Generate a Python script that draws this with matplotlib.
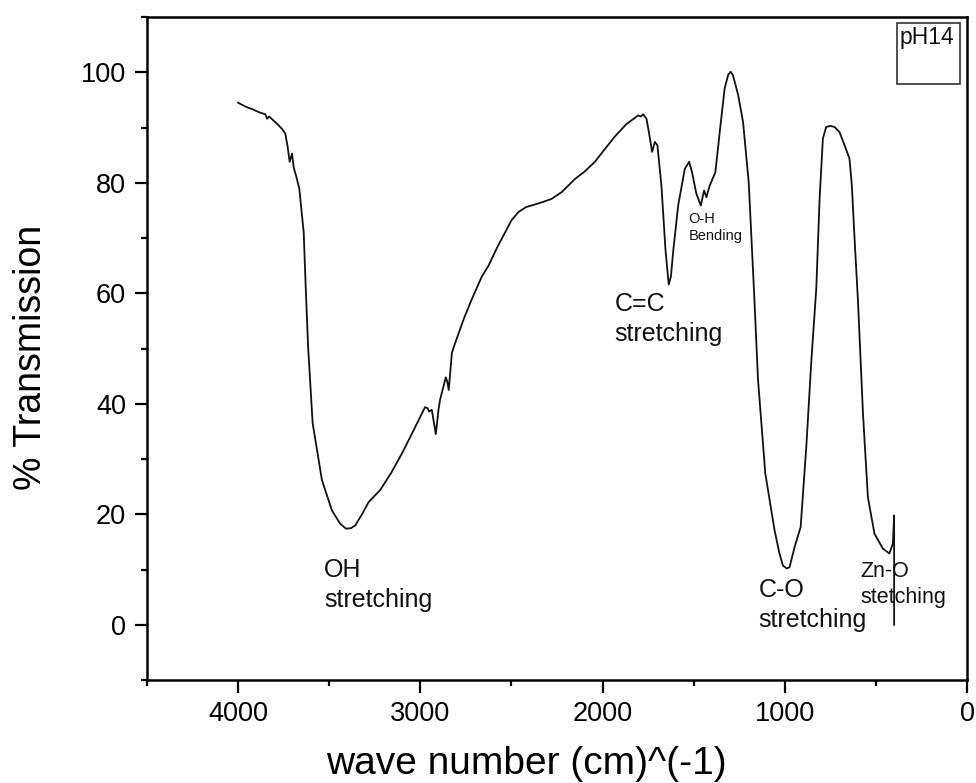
import numpy as np
import matplotlib.pyplot as plt
from matplotlib.patches import Rectangle
from matplotlib.ticker import MultipleLocator

plt.rcParams['font.family'] = ['Liberation Sans', 'DejaVu Sans']

# FTIR spectrum (wave number cm^-1, % transmission)
wavenumber = [4000, 3960, 3920, 3880, 3850, 3841, 3830, 3790, 3760, 3741, 3728, 3717,
              3704, 3695, 3682, 3664, 3640, 3630, 3616, 3591, 3540, 3485, 3440,
              3408, 3380, 3357, 3320, 3284, 3220, 3160, 3101, 3040, 2974, 2960,
              2952, 2937, 2925, 2915, 2900, 2892, 2860, 2852, 2844, 2827, 2809,
              2760, 2718, 2663, 2626, 2580, 2535, 2500, 2462, 2420, 2389, 2330,
              2279, 2225, 2151, 2100, 2042, 1990, 1932, 1870, 1830, 1805, 1790,
              1777, 1759, 1746, 1728, 1713, 1699, 1677, 1655, 1637, 1625, 1613,
              1585, 1549, 1525, 1509, 1485, 1461, 1443, 1430, 1412, 1381, 1357,
              1330, 1310, 1297, 1285, 1275, 1256, 1229, 1198, 1169, 1147, 1107,
              1056, 1030, 1010, 990, 974, 946, 913, 882, 855, 827, 809, 791,
              773, 750, 727, 700, 672, 645, 632, 617, 599, 571, 544, 508, 462,
              426, 407, 400, 400]
transmission = [94.5, 93.8, 93.3, 92.7, 92.4, 91.6, 92.0, 90.8, 89.8, 88.9, 86.5, 83.8,
                85.3, 82.8, 81.3, 78.9, 71.0, 62.0, 50.4, 36.5, 26.2, 20.7, 18.3,
                17.4, 17.5, 18.0, 20.0, 22.2, 24.4, 27.5, 31.0, 35.0, 39.4, 39.2,
                38.6, 38.9, 36.5, 34.5, 39.0, 40.7, 44.8, 44.0, 42.5, 49.2, 51.0,
                55.5, 58.9, 63.0, 65.0, 68.2, 71.0, 73.2, 74.7, 75.6, 75.9, 76.5,
                77.1, 78.3, 80.7, 82.0, 83.8, 86.0, 88.4, 90.6, 91.6, 92.2, 92.0,
                92.4, 91.6, 89.2, 85.6, 87.4, 86.8, 79.5, 68.0, 61.6, 63.0, 67.4,
                75.9, 82.5, 83.8, 81.9, 78.0, 75.9, 78.6, 77.4, 79.5, 81.9, 89.2,
                97.1, 99.6, 100.1, 99.5, 98.3, 95.9, 91.0, 80.1, 60.5, 44.4, 27.4,
                17.1, 13.0, 10.7, 10.2, 10.4, 14.1, 17.7, 32.2, 47.4, 61.0, 77.1, 88.0,
                90.1, 90.3, 90.1, 89.2, 86.8, 84.4, 79.5, 69.8, 59.0, 38.3, 23.1, 16.5, 13.8,
                12.9, 14.7, 19.8, 0.0]

# band labels: (text, x, y, size)
labels = [("OH\nstretching", 3529, 12.0, 18),
          ("C=C\nstretching", 1934, 60.2, 18),
          ("O-H\nBending", 1529, 74.7, 10.5),
          ("C-O\nstretching", 1145, 8.5, 18),
          ("Zn-O\nstetching", 586, 11.6, 15.5)]

fig = plt.figure(figsize=(9.76, 7.83), dpi=100)
ax = fig.add_axes([0.1506, 0.1315, 0.8402, 0.8467])

ax.plot(wavenumber, transmission, color='#111111', lw=1.3)

for txt, xx, yy, fs in labels:
    ax.text(xx, yy, txt, fontsize=fs, ha='left', va='top', color='#111111',
            linespacing=1.3)

# sample box in the corner
ax.add_patch(Rectangle((0.915, 0.899), 0.076, 0.092, transform=ax.transAxes,
                       fill=False, edgecolor='#333333', lw=1.2))
ax.text(0.918, 0.986, "pH14", transform=ax.transAxes, fontsize=16.5,
        ha='left', va='top', color='#111111')

ax.set_xlim(4500, 0)
ax.set_ylim(-10, 110)
ax.xaxis.set_major_locator(MultipleLocator(1000))
ax.xaxis.set_minor_locator(MultipleLocator(500))
ax.yaxis.set_major_locator(MultipleLocator(20))
ax.yaxis.set_minor_locator(MultipleLocator(10))
ax.tick_params(which='both', direction='out', top=False, right=False, width=1.6,
               labelsize=19.5, colors='black')
ax.tick_params(which='major', length=9, pad=6)
ax.tick_params(which='minor', length=4.5)
for s in ax.spines.values():
    s.set_linewidth(1.8)

ax.set_xlabel("wave number (cm)^(-1)", fontsize=28)
ax.set_ylabel("% Transmission", fontsize=27)
ax.xaxis.set_label_coords(0.463, -0.10)
ax.yaxis.set_label_coords(-0.12, 0.487)

plt.savefig("out.png", dpi=100)
